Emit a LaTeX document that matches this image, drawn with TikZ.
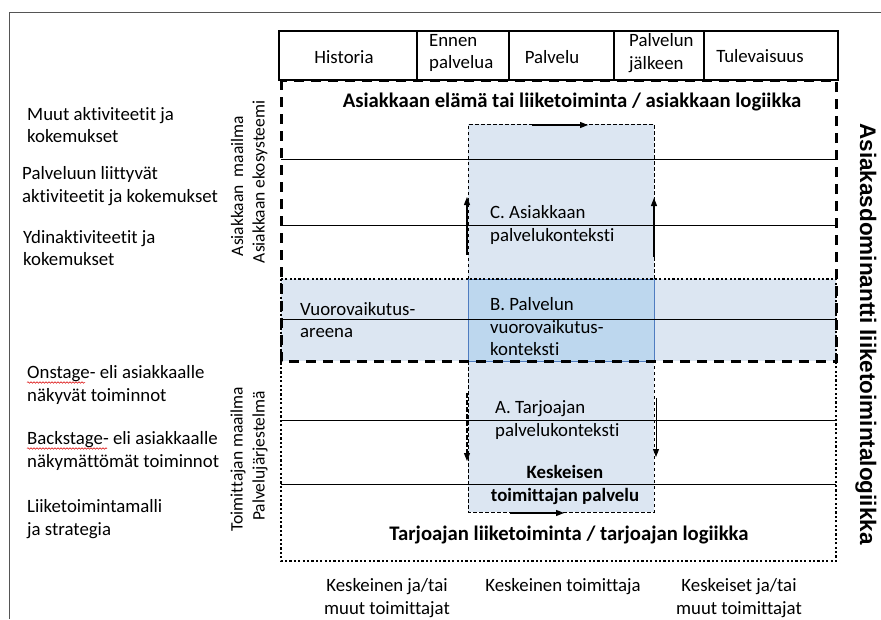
\documentclass[tikz,border=0pt]{standalone}
\usepackage{fontspec}
\setmainfont{Carlito}[Ligatures=NoCommon]
\newfontfamily\sidefont{Liberation Sans}
\usetikzlibrary{arrows.meta,decorations.pathmorphing}

\definecolor{bandblue}{HTML}{DCE6F2}
\definecolor{coreblue}{HTML}{BDD7EE}
\definecolor{coreedge}{HTML}{4F7CC0}
\definecolor{framegray}{HTML}{555555}

\begin{document}
\begin{tikzpicture}[x=1pt,y=-1pt,
  font=\fontsize{18.8}{22.5}\selectfont,
  lbl/.style={inner sep=0pt, align=left, anchor=west},
  ctr/.style={inner sep=0pt, align=center},
  bold/.style={ctr, font=\fontsize{18.8}{22.5}\selectfont\bfseries},
  title/.style={ctr, font=\fontsize{20.7}{24}\selectfont\bfseries},
  vert/.style={inner sep=0pt, rotate=90, font=\fontsize{17.5}{21}\selectfont},
  custedge/.style={line width=3pt, dash pattern=on 10pt off 7pt},
  provedge/.style={line width=2.6pt, dash pattern=on 2.2pt off 2.2pt},
  coledge/.style={line width=0.8pt, dash pattern=on 3.5pt off 2.5pt},
  rule/.style={line width=0.9pt},
  flow/.style={line width=1.2pt, -{Triangle[length=8pt,width=6pt]}},
  squig/.style={red!85!black, line width=0.5pt,
    decorate, decoration={snake, amplitude=0.8pt, segment length=3pt}},
  hdr/.style={line width=2pt}]

\useasboundingbox (0,0) rectangle (881,619);

% outer frame (top and left sides only)
\draw[framegray, line width=1pt] (9,619) -- (9,12) -- (881,12);

% shaded interaction band and central service column
\fill[bandblue] (281,279) rectangle (836,361);
\fill[bandblue] (468,124) rectangle (654,512);
\filldraw[fill=coreblue, draw=coreedge, line width=0.8pt] (468,279) rectangle (654,361);
\draw[coledge] (468,279) -- (468,124) -- (654,124) -- (654,279);
\draw[coledge] (468,361) -- (468,512) -- (654,512) -- (654,361);

% horizontal layer rules
\foreach \yy in {159,225,319,420,484}
  \draw[rule] (281,\yy) -- (836,\yy);

% customer world (dashed) and provider world (dotted)
\draw[custedge] (281,80) rectangle (836,361);
\draw[provedge] (281,279) rectangle (836,561);

% time-line header
\draw[hdr] (279,31) rectangle (838,80);
\foreach \xx in {417,509,614,704}
  \draw[hdr] (\xx,31) -- (\xx,80);
\node[ctr] (hHist) at (344,57) {Historia};
\node[lbl] (hBefore) at (429,53) {Ennen\\palvelua};
\node[ctr] (hServ) at (552,57) {Palvelu};
\node[lbl] (hAfter) at (629,53) {Palvelun\\jälkeen};
\node[ctr] (hFut) at (760,56) {Tulevaisuus};

% flow arrows
\coordinate (tA) at (532,125);  \coordinate (tB) at (588,125);
\coordinate (uL1) at (467,255); \coordinate (uL2) at (467,197);
\coordinate (uR1) at (654,257); \coordinate (uR2) at (654,198);
\coordinate (dL1) at (467,393); \coordinate (dL2) at (467,461);
\coordinate (dR1) at (656,398); \coordinate (dR2) at (656,457);
\coordinate (bA) at (510,513);  \coordinate (bB) at (564,513);
\draw[flow] (tA) -- (tB);
\draw[flow] (uL1) -- (uL2);
\draw[flow] (uR1) -- (uR2);
\draw[flow, dash pattern=on 5pt off 2pt] (dL1) -- (dL2);
\draw[flow, line width=0.9pt] (dR1) -- (dR2);
\draw[flow] (bA) -- (bB);

% texts inside the grid
\node[title] (custLogic) at (572,102) {Asiakkaan elämä tai liiketoiminta / asiakkaan logiikka};
\node[lbl] (ctxC) at (490,225) {C. Asiakkaan\\palvelukonteksti};
\node[lbl] (arena) at (300,320) {Vuorovaikutus-\\areena};
\node[lbl] (ctxB) at (490,327) {B. Palvelun\\vuorovaikutus-\\konteksti};
\node[lbl] (ctxA) at (495,420) {A. Tarjoajan\\palvelukonteksti};
\node[bold] (coreServ) at (565,485) {Keskeisen\\toimittajan palvelu};
\node[title] (provLogic) at (569,535) {Tarjoajan liiketoiminta / tarjoajan logiikka};

% supplier labels below
\node[ctr] (supL) at (387,598) {Keskeinen ja/tai\\muut toimittajat};
\node[ctr] (supC) at (563,587) {Keskeinen toimittaja};
\node[ctr] (supR) at (739,598) {Keskeiset ja/tai\\muut toimittajat};

% layer labels on the left
\node[lbl] (lay1) at (27,125) {Muut aktiviteetit ja\\kokemukset};
\node[lbl] (lay2) at (22,186) {Palveluun liittyvät\\aktiviteetit ja kokemukset};
\node[lbl] (lay3) at (23,248) {Ydinaktiviteetit ja\\kokemukset};
\node[lbl] (lay4) at (27,385) {Onstage- eli asiakkaalle\\näkyvät toiminnot};
\node[lbl] (lay5) at (27,451) {Backstage- eli asiakkaalle\\näkymättömät toiminnot};
\node[lbl] (lay6) at (27,519) {Liiketoimintamalli\\ja strategia};
\draw[squig] (27,382.5) -- (85,382.5);
\draw[squig] (27,448.5) -- (107,448.5);

% rotated world labels
\node[vert] (cw1) at (237,186) {Asiakkaan\ \ maailma};
\node[vert] (cw2) at (260,182) {Asiakkaan ekosysteemi};
\node[vert] (pw1) at (238,459) {Toimittajan maailma};
\node[vert] (pw2) at (260,456) {Palvelujärjestelmä};
\node[inner sep=0pt, rotate=-90, font=\sidefont\bfseries\fontsize{22.5}{26}\selectfont]
  (dominant) at (866,334) {Asiakasdominantti liiketoimintalogiikka};

\end{tikzpicture}
\end{document}
